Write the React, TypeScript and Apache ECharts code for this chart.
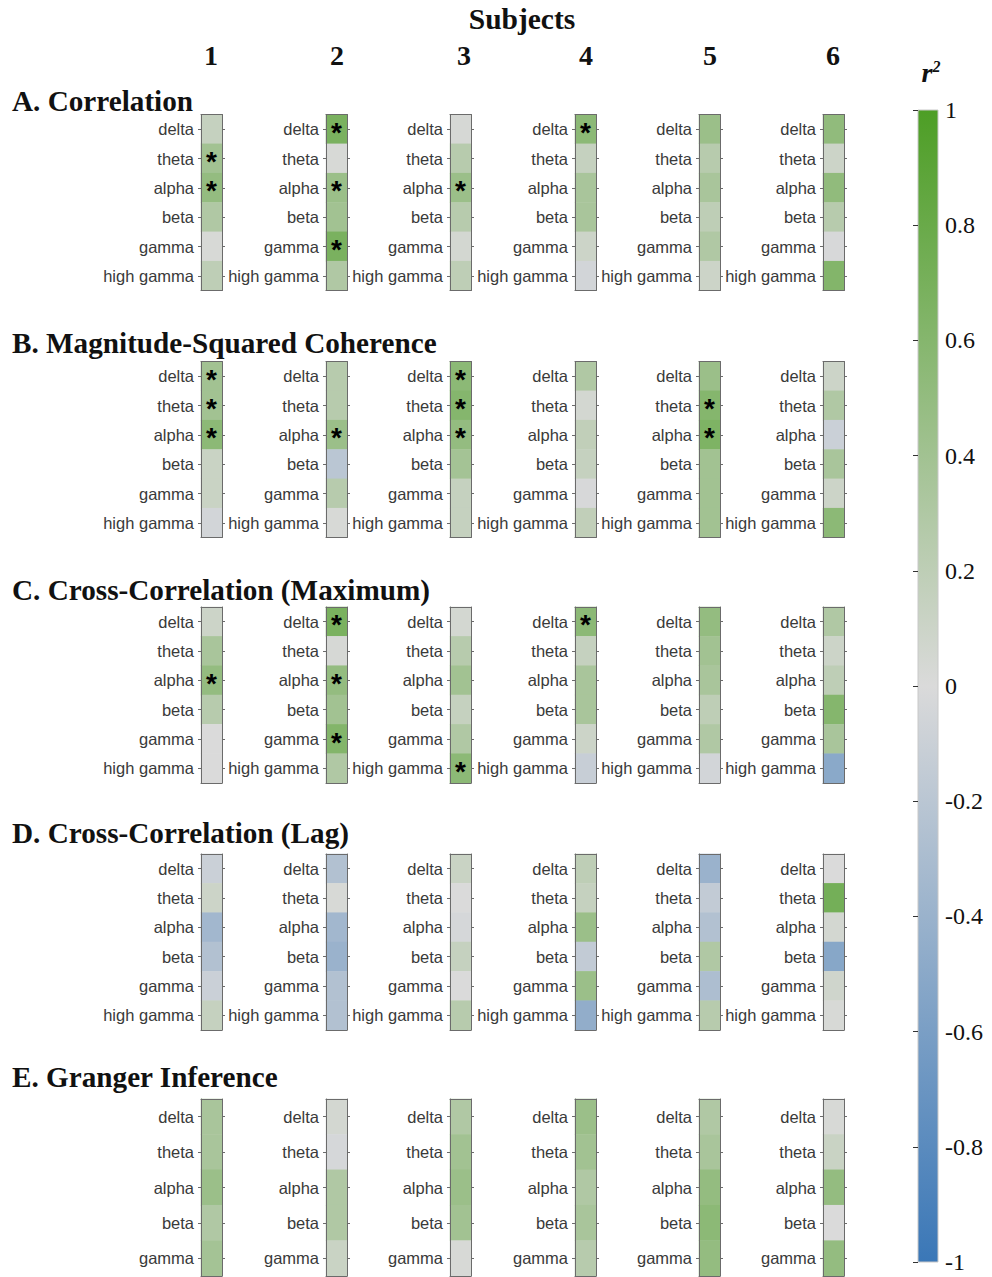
import React, { useEffect, useRef } from "react";
import * as echarts from "echarts";

const BANDS = ["delta", "theta", "alpha", "beta", "gamma", "high gamma"];
const BANDS_GRANGER = ["delta", "theta", "alpha", "beta", "gamma"];
const SUBJECTS = ["1", "2", "3", "4", "5", "6"];
const PANEL_TITLES = [
  "A. Correlation",
  "B. Magnitude-Squared Coherence",
  "C. Cross-Correlation (Maximum)",
  "D. Cross-Correlation (Lag)",
  "E. Granger Inference",
];

// values[subject][band]
const CORRELATION = [
  [0.15, 0.4, 0.5, 0.3, 0.02, 0.2],
  [0.68, 0.02, 0.45, 0.4, 0.68, 0.3],
  [0.03, 0.25, 0.45, 0.25, 0.05, 0.2],
  [0.55, 0.15, 0.35, 0.35, 0.1, -0.05],
  [0.45, 0.25, 0.35, 0.2, 0.3, 0.1],
  [0.52, 0.1, 0.52, 0.25, -0.02, 0.62],
];
const CORRELATION_SIG = [
  [0, 1, 1, 0, 0, 0],
  [1, 0, 1, 0, 1, 0],
  [0, 0, 1, 0, 0, 0],
  [1, 0, 0, 0, 0, 0],
  [0, 0, 0, 0, 0, 0],
  [0, 0, 0, 0, 0, 0],
];
const COHERENCE = [
  [0.4, 0.4, 0.55, 0.12, 0.12, -0.05],
  [0.25, 0.25, 0.45, -0.2, 0.25, 0.02],
  [0.55, 0.6, 0.5, 0.38, 0.15, 0.15],
  [0.3, 0.05, 0.18, 0.15, -0.02, 0.18],
  [0.45, 0.6, 0.65, 0.4, 0.4, 0.4],
  [0.1, 0.3, -0.1, 0.35, 0.1, 0.55],
];
const COHERENCE_SIG = [
  [1, 1, 1, 0, 0, 0],
  [0, 0, 1, 0, 0, 0],
  [1, 1, 1, 0, 0, 0],
  [0, 0, 0, 0, 0, 0],
  [0, 1, 1, 0, 0, 0],
  [0, 0, 0, 0, 0, 0],
];
const XCORR_MAX = [
  [0.1, 0.35, 0.5, 0.25, 0.0, 0.0],
  [0.68, 0.03, 0.5, 0.4, 0.62, 0.3],
  [0.05, 0.25, 0.4, 0.15, 0.3, 0.55],
  [0.55, 0.15, 0.35, 0.35, 0.1, -0.12],
  [0.5, 0.4, 0.35, 0.2, 0.3, -0.05],
  [0.3, 0.1, 0.2, 0.6, 0.35, -0.5],
];
const XCORR_MAX_SIG = [
  [0, 0, 1, 0, 0, 0],
  [1, 0, 1, 0, 1, 0],
  [0, 0, 0, 0, 0, 1],
  [1, 0, 0, 0, 0, 0],
  [0, 0, 0, 0, 0, 0],
  [0, 0, 0, 0, 0, 0],
];
const XCORR_LAG = [
  [-0.1, 0.1, -0.35, -0.25, -0.1, 0.15],
  [-0.25, 0.02, -0.35, -0.4, -0.25, -0.25],
  [0.12, 0.0, -0.03, 0.15, 0.0, 0.25],
  [0.2, 0.15, 0.45, -0.15, 0.45, -0.45],
  [-0.4, -0.15, -0.25, 0.3, -0.28, 0.25],
  [0.0, 0.72, 0.05, -0.52, 0.08, 0.02],
];
const GRANGER = [
  [0.35, 0.35, 0.45, 0.3, 0.38],
  [0.05, -0.03, 0.3, 0.3, 0.12],
  [0.3, 0.4, 0.45, 0.4, 0.02],
  [0.45, 0.4, 0.3, 0.35, 0.25],
  [0.3, 0.35, 0.5, 0.55, 0.5],
  [0.02, 0.12, 0.5, 0.0, 0.5],
];

const PANEL_VALUES = [CORRELATION, COHERENCE, XCORR_MAX, XCORR_LAG, GRANGER];
const PANEL_SIG = [CORRELATION_SIG, COHERENCE_SIG, XCORR_MAX_SIG, null, null];
const PANEL_BANDS = [BANDS, BANDS, BANDS, BANDS, BANDS_GRANGER];

const COLORS = ["#3a77b7", "#dadada", "#4d9e25"];

// layout
const COL_LEFT = [201, 326, 450, 575, 699, 823];
const CELL_W = 21;
const PANEL_TOP = [114.5, 361.5, 607, 854, 1099];
const PANEL_H = [176, 176, 176, 176, 177];
const TITLE_Y = [101, 343, 590, 833, 1077];
const NUM_X = [211, 337, 464, 586, 710, 833];

const SERIF = "Liberation Serif";
const SANS = "Liberation Sans";

export default function App() {
  const ref = useRef<HTMLDivElement>(null);
  useEffect(() => {
    if (!ref.current) return;
    const chart = echarts.init(ref.current, undefined, { renderer: "svg" });
    const grids: any[] = [];
    const xAxes: any[] = [];
    const yAxes: any[] = [];
    const series: any[] = [];
    const borderLine = { show: true, onZero: false, lineStyle: { color: "#6b6b6b", width: 1 } };
    let g = 0;
    PANEL_VALUES.forEach((vals, p) => {
      const bands = PANEL_BANDS[p];
      const sig = PANEL_SIG[p];
      SUBJECTS.forEach((_s, j) => {
        grids.push({ left: COL_LEFT[j], top: PANEL_TOP[p], width: CELL_W, height: PANEL_H[p] });
        const xBase = { type: "category", data: ["v"], gridIndex: g, z: 5, axisLine: borderLine, axisTick: { show: false }, axisLabel: { show: false } };
        xAxes.push({ ...xBase, position: "bottom" });
        xAxes.push({ ...xBase, position: "top" });
        const yBase = {
          type: "category",
          data: bands,
          inverse: true,
          gridIndex: g,
          z: 5,
          axisLine: borderLine,
          axisTick: { show: true, alignWithLabel: true, length: 3, lineStyle: { color: "#6b6b6b" } },
        };
        yAxes.push({
          ...yBase,
          position: "left",
          axisLabel: { show: true, fontSize: 16.5, color: "#3a3a3a", fontFamily: SANS, margin: 7 },
        });
        yAxes.push({ ...yBase, position: "right", axisLabel: { show: false } });
        series.push({
          type: "heatmap",
          xAxisIndex: 2 * g,
          yAxisIndex: 2 * g,
          data: bands.map((_b, k) => [0, k, vals[j][k], sig ? sig[j][k] : 0]),
          label: {
            show: true,
            formatter: (prm: any) => (prm.data[3] ? "*" : ""),
            fontSize: 28,
            fontWeight: "bold",
            color: "#000",
            fontFamily: SANS,
            offset: [0, 3],
          },
          emphasis: { disabled: true },
          silent: true,
        });
        g++;
      });
    });
    // colorbar grid
    const CB_TOP = 110;
    const CB_H = 1152;
    grids.push({ left: 918, top: CB_TOP, width: 20, height: CB_H });
    xAxes.push({ type: "value", gridIndex: g, show: false });
    yAxes.push({
      type: "value",
      gridIndex: g,
      min: -1,
      max: 1,
      interval: 0.2,
      position: "right",
      z: 10,
      axisLine: { show: false },
      splitLine: { show: false },
      axisTick: { show: true, inside: true, length: 5, lineStyle: { color: "#333" } },
      axisLabel: { fontSize: 24, color: "#111", fontFamily: SERIF, margin: 7 },
    });

    const graphic: any[] = [
      {
        type: "rect",
        z: 1,
        shape: { x: 918, y: CB_TOP, width: 20, height: CB_H },
        style: {
          fill: new echarts.graphic.LinearGradient(0, 0, 0, 1, [
            { offset: 0, color: COLORS[2] },
            { offset: 0.5, color: COLORS[1] },
            { offset: 1, color: COLORS[0] },
          ]),
          stroke: "#c8c8c8",
          lineWidth: 1,
        },
      },
      {
        type: "text",
        x: 931,
        y: 72,
        style: {
          text: "{r|r}{s|2}",
          textAlign: "center",
          textVerticalAlign: "middle",
          rich: {
            r: { fontFamily: SERIF, fontSize: 28, fontStyle: "italic", fontWeight: "bold", fill: "#111" },
            s: { fontFamily: SERIF, fontSize: 16, fontStyle: "italic", fontWeight: "bold", fill: "#111", verticalAlign: "top", padding: [0, 0, 12, 0] },
          },
        },
      },
      {
        type: "text",
        x: 522,
        y: 19,
        style: { text: "Subjects", fontFamily: SERIF, fontSize: 29.5, fontWeight: "bold", fill: "#111", textAlign: "center", textVerticalAlign: "middle" },
      },
      ...SUBJECTS.map((s, j) => ({
        type: "text",
        x: NUM_X[j],
        y: 55,
        style: { text: s, fontFamily: SERIF, fontSize: 28, fontWeight: "bold", fill: "#111", textAlign: "center", textVerticalAlign: "middle" },
      })),
      ...PANEL_TITLES.map((t, p) => ({
        type: "text",
        x: 12,
        y: TITLE_Y[p],
        style: { text: t, fontFamily: SERIF, fontSize: 29.2, fontWeight: "bold", fill: "#111", textAlign: "left", textVerticalAlign: "middle" },
      })),
    ];

    chart.setOption({
      animation: false,
      backgroundColor: "#fff",
      grid: grids,
      xAxis: xAxes,
      yAxis: yAxes,
      visualMap: {
        type: "continuous",
        show: false,
        min: -1,
        max: 1,
        dimension: 2,
        seriesIndex: series.map((_s, i) => i),
        inRange: { color: COLORS },
      },
      series,
      graphic,
    });
    return () => chart.dispose();
  }, []);
  return <div ref={ref} style={{ position: "absolute", left: 0, top: 0, width: 992, height: 1277 }} />;
}
